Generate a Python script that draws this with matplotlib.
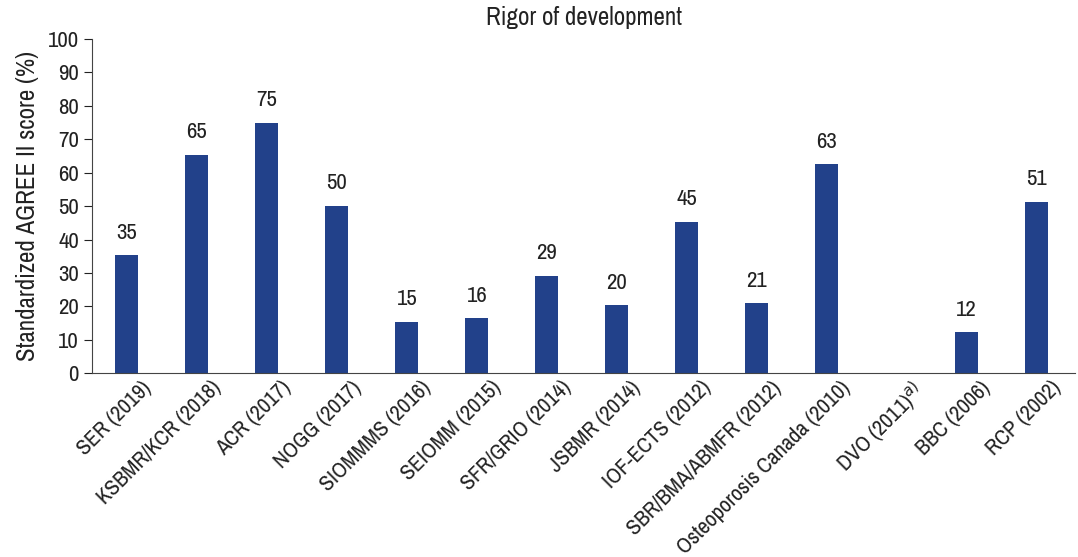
import numpy as np
import matplotlib.pyplot as plt
import matplotlib.transforms as mtransforms
from matplotlib import font_manager

# pick a narrow font if one is installed, the original uses a condensed face
narrow = None
for f in font_manager.fontManager.ttflist:
    if "Narrow" in f.name or "Condensed" in f.name:
        narrow = f.name
        break
if narrow:
    plt.rcParams['font.family'] = [narrow, 'DejaVu Sans']
    big, small = 16.5, 16
else:
    plt.rcParams['font.family'] = ['Liberation Sans', 'DejaVu Sans']
    big, small = 14, 12.5

guidelines = ["SER (2019)", "KSBMR/KCR (2018)", "ACR (2017)", "NOGG (2017)",
              "SIOMMMS (2016)", "SEIOMM (2015)", "SFR/GRIO (2014)", "JSBMR (2014)",
              "IOF-ECTS (2012)", "SBR/BMA/ABMFR (2012)", "Osteoporosis Canada (2010)",
              "DVO (2011)$^{a)}$", "BBC (2006)", "RCP (2002)"]
scores = [35.3, 65.3, 75, 50, 15.3, 16.4, 29.1, 20.3, 45.2, 20.9, 62.5, np.nan, 12.2, 51.3]
labels = ["35", "65", "75", "50", "15", "16", "29", "20", "45", "21", "63", "", "12", "51"]

fig = plt.figure(figsize=(10.78, 5.57), dpi=100)
ax = fig.add_axes([0.0853, 0.330, 0.912, 0.600])

x = np.arange(len(guidelines))
ax.bar(x, scores, width=0.33, color="#22418a")
for xi, s, lab in zip(x, scores, labels):
    if lab:
        ax.text(xi, s + 3.8, lab, ha="center", va="bottom", fontsize=big, color="#222222")

ax.set_xlim(-0.5, len(guidelines) - 0.45)
ax.set_ylim(0, 100)
ax.set_yticks(range(0, 101, 10))
ax.tick_params(axis="y", direction="out", length=6, labelsize=big, colors="#222222")
ax.tick_params(axis="x", length=0, labelsize=small, colors="#222222", pad=3)
ax.set_xticks(x)
ax.set_xticklabels(guidelines, rotation=45, ha="right", rotation_mode="anchor")
# labels end a little right of the bar centre in the original
shift = mtransforms.ScaledTranslation(10 / 72, 0, fig.dpi_scale_trans)
for t in ax.get_xticklabels():
    t.set_transform(t.get_transform() + shift)
ax.spines["top"].set_visible(False)
ax.spines["right"].set_visible(False)
ax.spines["left"].set_color("#444444")
ax.spines["bottom"].set_color("#444444")
ax.set_ylabel("Standardized AGREE II score (%)", fontsize=18, color="#222222", labelpad=6)
ax.set_title("Rigor of development", fontsize=18, color="#222222", pad=10)

plt.savefig("out.png", dpi=100)
